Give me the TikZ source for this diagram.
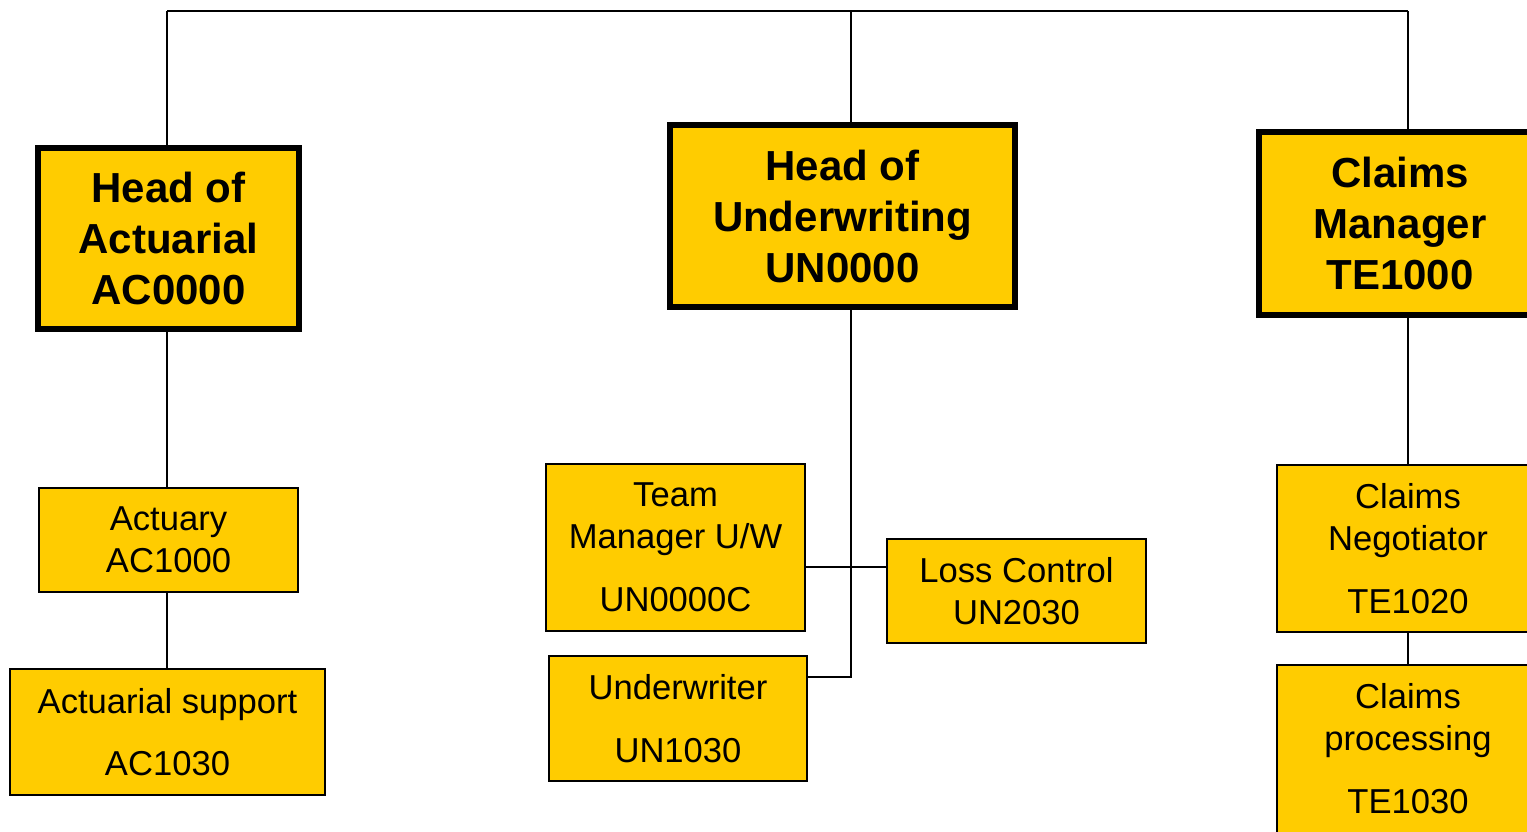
\documentclass[tikz,border=0pt]{standalone}
\usepackage{fontspec}
\setmainfont{Liberation Sans}
\definecolor{gold}{HTML}{FFCC00}
\tikzset{
  headbox/.style={draw=black, line width=3.2pt, fill=gold, inner sep=0pt, outer sep=0pt,
    align=center, font=\fontsize{21}{25.5}\selectfont\bfseries},
  rolebox/.style={draw=black, line width=1pt, fill=gold, inner sep=0pt, outer sep=0pt,
    align=center, font=\fontsize{17.3}{21}\selectfont},
  link/.style={draw=black, line width=1pt}
}
\begin{document}
\begin{tikzpicture}[x=0.5pt,y=-0.5pt]
\path[use as bounding box] (0,0) rectangle (1527,831);
\clip (0,0) rectangle (1527,831);
\fill[white] (0,0) rectangle (1527,831);

% named coordinates for connector routing
\coordinate (topL) at (167,11);
\coordinate (topM) at (851,11);
\coordinate (topR) at (1408,11);
\coordinate (cross) at (851,567);
\coordinate (spine) at (851,677);

% connectors (drawn first, boxes cover ends)
\draw[link] (topL) -- (topR);

% head boxes
\node[headbox, minimum width=130.5pt, minimum height=90.5pt] (hoa) at (168.5,238.5)
  {Head of\\Actuarial\\AC0000};
\node[headbox, minimum width=172.5pt, minimum height=91pt] (hou) at (842.5,216)
  {Head of\\Underwriting\\UN0000};
\node[headbox, minimum width=141pt, minimum height=91.5pt] (cm) at (1400,223.5)
  {Claims\\Manager\\TE1000};

% role boxes
\node[rolebox, minimum width=129.5pt, minimum height=52pt] (act) at (168.5,540)
  {Actuary\\AC1000};
\node[rolebox, minimum width=157.5pt, minimum height=63pt] (acs) at (167.5,732)
  {Actuarial support\\[10pt]AC1030};
\node[rolebox, minimum width=129.5pt, minimum height=83.5pt] (tm) at (675.5,547.5)
  {Team\\Manager U/W\\[10.5pt]UN0000C};
\node[rolebox, minimum width=129pt, minimum height=62.5pt] (uw) at (678,718.5)
  {Underwriter\\[10.5pt]UN1030};
\node[rolebox, minimum width=129.5pt, minimum height=52pt] (lc) at (1016.5,591)
  {Loss Control\\UN2030};
\node[rolebox, minimum width=131pt, minimum height=83.5pt] (cn) at (1408,548.5)
  {Claims\\Negotiator\\[10.5pt]TE1020};
\node[rolebox, minimum width=131pt, minimum height=84pt] (cp) at (1408,749)
  {Claims\\processing\\[10.5pt]TE1030};

% vertical connectors
\draw[link] (topL) -- (topL |- hoa.north);
\draw[link] (topM) -- (topM |- hou.north);
\draw[link] (topR) -- (topR |- cm.north);

\draw[link] (topL |- hoa.south) -- (topL |- act.north);
\draw[link] (topL |- act.south) -- (topL |- acs.north);

\draw[link] (spine |- hou.south) -- (spine) -- (uw.east |- spine);
\draw[link] (tm.east |- cross) -- (lc.west |- cross);

\draw[link] (topR |- cm.south) -- (topR |- cn.north);
\draw[link] (topR |- cn.south) -- (topR |- cp.north);
\end{tikzpicture}
\end{document}
